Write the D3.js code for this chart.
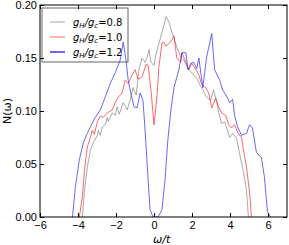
<!DOCTYPE html>
<html>
<head>
<meta charset="utf-8">
<script src="https://cdn.jsdelivr.net/npm/d3@7"></script>
<style>
  body { margin: 0; background: #fff; }
  svg { display: block; font-family: "DejaVu Sans", sans-serif; }
  .tick text { font-size: 11px; fill: #000; }
</style>
</head>
<body>
<div id="chart"></div>
<script>
// series g_H/g_c = 0.8 (grey)
var omega08 = [-3.77,-3.66,-3.51,-3.35,-3.19,-2.98,-2.93,-2.83,-2.72,-2.57,-2.46,-2.41,-2.20,-2.04,-1.94,-1.83,-1.62,-1.41,-1.26,-1.10,-0.94,-0.79,-0.63,-0.47,-0.37,-0.26,-0.16,0.00,0.10,0.26,0.42,0.63,0.79,0.94,1.05,1.20,1.41,1.57,1.73,1.94,2.09,2.25,2.46,2.57,2.77,2.98,3.14,3.30,3.40,3.56,3.72,3.98,4.14,4.35,4.50,4.66,4.87,4.97];
var dos08 = [0,0.025,0.047,0.063,0.070,0.077,0.082,0.077,0.085,0.087,0.094,0.090,0.098,0.096,0.104,0.097,0.108,0.101,0.110,0.122,0.115,0.139,0.150,0.146,0.150,0.158,0.146,0.143,0.153,0.164,0.174,0.189,0.184,0.174,0.169,0.160,0.151,0.148,0.142,0.137,0.134,0.131,0.123,0.120,0.113,0.110,0.120,0.108,0.099,0.088,0.090,0.075,0.079,0.074,0.060,0.047,0.025,0];

// series g_H/g_c = 1.0 (red)
var omega10 = [-3.93,-3.77,-3.66,-3.51,-3.35,-3.25,-3.14,-2.98,-2.83,-2.67,-2.46,-2.20,-2.04,-1.88,-1.68,-1.52,-1.36,-1.15,-0.99,-0.84,-0.63,-0.42,-0.31,-0.16,0.00,0.16,0.26,0.42,0.52,0.63,0.79,0.94,1.05,1.20,1.41,1.47,1.68,1.83,1.99,2.20,2.36,2.51,2.72,2.88,3.04,3.25,3.40,3.56,3.77,3.93,4.08,4.24,4.40,4.61,4.71,4.87,5.03,5.13];
var dos10 = [0,0.019,0.044,0.066,0.075,0.082,0.078,0.090,0.095,0.094,0.098,0.101,0.108,0.113,0.117,0.129,0.126,0.134,0.139,0.130,0.132,0.144,0.143,0.120,0.087,0.115,0.142,0.164,0.165,0.161,0.164,0.167,0.171,0.150,0.146,0.155,0.146,0.139,0.145,0.139,0.134,0.125,0.122,0.117,0.103,0.112,0.104,0.098,0.096,0.087,0.084,0.087,0.080,0.075,0.063,0.047,0.023,0];

// series g_H/g_c = 1.2 (blue)
var omega12 = [-4.29,-4.14,-3.93,-3.72,-3.51,-3.35,-3.09,-2.83,-2.57,-2.30,-2.04,-1.78,-1.62,-1.47,-1.36,-1.20,-1.05,-0.89,-0.73,-0.58,-0.47,-0.31,-0.21,-0.05,0.21,0.42,0.58,0.73,0.89,1.05,1.31,1.47,1.68,1.78,1.94,2.09,2.25,2.36,2.57,2.77,3.04,3.19,3.46,3.61,3.82,3.98,4.14,4.24,4.40,4.61,4.87,5.03,5.18,5.39,5.65,5.81,5.97,6.13];
var dos12 = [0,0.028,0.054,0.070,0.079,0.085,0.094,0.101,0.113,0.126,0.136,0.148,0.165,0.148,0.129,0.115,0.104,0.103,0.117,0.110,0.082,0.035,0.007,0,0,0.007,0.035,0.073,0.101,0.122,0.139,0.155,0.155,0.139,0.145,0.146,0.140,0.150,0.122,0.151,0.173,0.139,0.129,0.120,0.114,0.108,0.111,0.096,0.085,0.077,0.079,0.087,0.084,0.061,0.056,0.038,0.005,0];

var xTicks = [-6, -4, -2, 0, 2, 4, 6];
var yTicks = [0.00, 0.05, 0.10, 0.15, 0.20];
var ratioLabels = ["0.8", "1.0", "1.2"];

var width = 289, height = 245;
var margin = { top: 5, right: 2, bottom: 28, left: 40 };
var w = width - margin.left - margin.right,
    h = height - margin.top - margin.bottom;

var svg = d3.select('#chart').append('svg')
  .attr('width', width)
  .attr('height', height);

var g = svg.append('g').attr('transform', 'translate(' + margin.left + ',' + margin.top + ')');

var x = d3.scaleLinear().domain([-6, 7]).range([0, w]);
var y = d3.scaleLinear().domain([0, 0.2]).range([h, 0]);

var defs = svg.append('defs');
defs.append('clipPath').attr('id', 'clip')
  .append('rect').attr('width', w).attr('height', h);

var series = [
  { name: ratioLabels[0], xs: omega08, ys: dos08, color: 'rgba(140,140,140,0.75)', lw: 1 },
  { name: ratioLabels[1], xs: omega10, ys: dos10, color: 'rgba(255,40,40,0.7)', lw: 1 },
  { name: ratioLabels[2], xs: omega12, ys: dos12, color: 'rgba(40,40,255,0.7)', lw: 1 }
];

var line = d3.line()
  .x(function(d) { return x(d[0]); })
  .y(function(d) { return y(d[1]); });

// legend first, lines show through it
var leg = g.append('g').attr('transform', 'translate(2,3)');
leg.append('rect')
  .attr('width', 86).attr('height', 54)
  .attr('fill', '#fff')
  .attr('stroke', '#666').attr('stroke-width', 1);

var plot = g.append('g').attr('clip-path', 'url(#clip)');
series.forEach(function(s) {
  plot.append('path')
    .datum(d3.zip(s.xs, s.ys))
    .attr('d', line)
    .attr('fill', 'none')
    .attr('stroke', s.color)
    .attr('stroke-width', s.lw)
    .attr('stroke-linejoin', 'round');
});

series.forEach(function(s, i) {
  var row = leg.append('g').attr('transform', 'translate(0,' + (14 + i * 15) + ')');
  row.append('line')
    .attr('x1', 8).attr('x2', 23).attr('y1', 0).attr('y2', 0)
    .attr('stroke', s.color).attr('stroke-width', i == 2 ? 2 : 1);
  var t = row.append('text').attr('x', 31).attr('y', 4).style('font-size', '10px');
  t.append('tspan').style('font-style', 'italic').text('g');
  t.append('tspan').style('font-style', 'italic').style('font-size', '7px').attr('dy', 2).text('H');
  t.append('tspan').style('font-style', 'italic').attr('dy', -2).text('/g');
  t.append('tspan').style('font-style', 'italic').style('font-size', '7px').attr('dy', 2).text('c');
  t.append('tspan').attr('dy', -2).text('=' + s.name);
});

// axes: classic style, ticks pointing inward on all sides
g.append('g').attr('transform', 'translate(0,' + h + ')')
  .call(d3.axisBottom(x).tickValues(xTicks).tickSizeInner(-4).tickSizeOuter(0).tickPadding(4)
    .tickFormat(function(d) { return d < 0 ? '\u2212' + Math.abs(d) : d; }));
g.append('g')
  .call(d3.axisTop(x).tickValues(xTicks).tickSizeInner(-4).tickSizeOuter(0).tickFormat(''));
g.append('g')
  .call(d3.axisLeft(y).tickValues(yTicks).tickSizeInner(-4).tickSizeOuter(0).tickPadding(3)
    .tickFormat(d3.format('.2f')));
g.append('g').attr('transform', 'translate(' + w + ',0)')
  .call(d3.axisRight(y).tickValues(yTicks).tickSizeInner(-4).tickSizeOuter(0).tickFormat(''));

g.selectAll('.domain').remove();
g.selectAll('.tick line').attr('stroke', '#000');
g.append('rect')
  .attr('width', w).attr('height', h)
  .attr('fill', 'none').attr('stroke', '#000').attr('stroke-width', 1);

// axis labels
svg.append('text')
  .attr('x', margin.left + x(0.4)).attr('y', 243)
  .attr('text-anchor', 'middle')
  .style('font-size', '11px')
  .style('font-style', 'italic')
  .text('\u03c9/t');

svg.append('text')
  .attr('transform', 'translate(11,' + (margin.top + h / 2) + ') rotate(-90)')
  .attr('text-anchor', 'middle')
  .style('font-size', '11px')
  .text('N(\u03c9)');
</script>
</body>
</html>
